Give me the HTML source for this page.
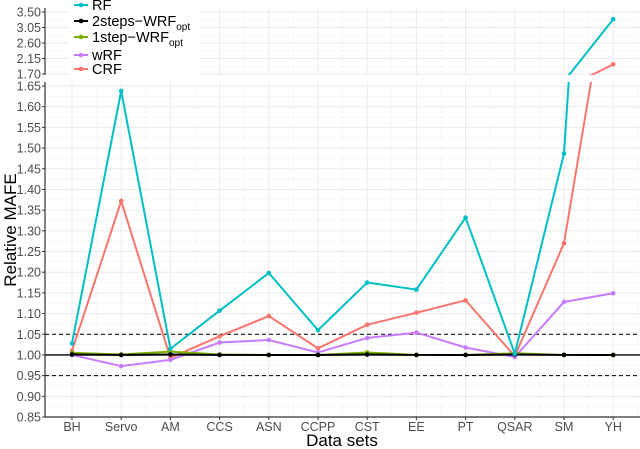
<!DOCTYPE html>
<html><head><meta charset="utf-8">
<style>
body{margin:0;background:#fff;}
svg{display:block;font-family:"Liberation Sans",sans-serif;}
</style></head>
<body>
<svg id="chart" width="640" height="449" viewBox="0 0 640 449">
<defs>
<clipPath id="clipTop"><rect x="45" y="8" width="595" height="67"/></clipPath>
<clipPath id="clipBot"><rect x="45" y="82" width="595" height="335"/></clipPath>
</defs>
<g id="grid"></g>
<g id="refs"></g>
<g id="series"></g>
<g id="axes"></g>
<g>
<rect x="68" y="0" width="132" height="76" fill="#fff"/>
<g id="legend"></g>
</g>
<text x="0" y="0" transform="translate(16,230) rotate(-90)" text-anchor="middle" font-size="17" fill="#000">Relative MAFE</text>
<text x="342" y="446" text-anchor="middle" font-size="17" fill="#000">Data sets</text>
</svg>
<script>
const categories=["BH","Servo","AM","CCS","ASN","CCPP","CST","EE","PT","QSAR","SM","YH"];
const rfValues=[1.028,1.638,1.015,1.107,1.198,1.060,1.175,1.158,1.332,1.003,1.487,3.29];
const twoStepsValues=[1.001,1.000,1.001,1.000,1.000,1.000,1.001,1.000,1.000,1.001,1.000,1.000];
const oneStepValues=[1.005,1.001,1.008,1.001,1.000,1.000,1.006,1.000,1.000,1.004,1.000,1.000];
const wrfValues=[1.000,0.973,0.988,1.030,1.036,1.006,1.041,1.054,1.018,0.995,1.128,1.149];
const crfValues=[1.010,1.372,0.993,1.045,1.094,1.016,1.073,1.102,1.132,0.997,1.270,1.98];
const bottomTicks=["0.85","0.90","0.95","1.00","1.05","1.10","1.15","1.20","1.25","1.30","1.35","1.40","1.45","1.50","1.55","1.60","1.65"];
const topTicks=["1.70","2.15","2.60","3.05","3.50"];

const NS="http://www.w3.org/2000/svg";
function mk(parent,tag,attrs){const e=document.createElementNS(NS,tag);for(const k in attrs)e.setAttribute(k,attrs[k]);parent.appendChild(e);return e;}
const x=i=>72+i*49.2;
const yB=v=>417-(v-0.85)*413.75;
const yT=v=>74-(v-1.70)*(62/1.80);
const grid=document.getElementById('grid'),axes=document.getElementById('axes'),refs=document.getElementById('refs'),series=document.getElementById('series');
for(let i=0;i<bottomTicks.length;i++){const v=+bottomTicks[i];
 mk(grid,'line',{x1:45,x2:640,y1:yB(v),y2:yB(v),stroke:'#ebebeb','stroke-width':1});
 if(i<bottomTicks.length-1)mk(grid,'line',{x1:45,x2:640,y1:yB(v+0.025),y2:yB(v+0.025),stroke:'#f3f3f3','stroke-width':0.6});
 const t=mk(axes,'text',{x:41,y:yB(v)+4.5,'text-anchor':'end','font-size':12.5,fill:'#4d4d4d'});t.textContent=bottomTicks[i];
 
 mk(axes,'line',{x1:42,x2:45,y1:yB(v),y2:yB(v),stroke:'#333'});
}
for(let i=0;i<topTicks.length;i++){const v=+topTicks[i];
 mk(grid,'line',{x1:45,x2:640,y1:yT(v),y2:yT(v),stroke:'#ebebeb','stroke-width':1});
 if(i<topTicks.length-1)mk(grid,'line',{x1:45,x2:640,y1:yT(v+0.225),y2:yT(v+0.225),stroke:'#f3f3f3','stroke-width':0.6});
 const t=mk(axes,'text',{x:41,y:yT(v)+4.5,'text-anchor':'end','font-size':12.5,fill:'#4d4d4d'});t.textContent=topTicks[i];
 
 mk(axes,'line',{x1:42,x2:45,y1:yT(v),y2:yT(v),stroke:'#333'});
}
for(let i=0;i<categories.length;i++){
 mk(grid,'line',{x1:x(i),x2:x(i),y1:82,y2:417,stroke:'#ebebeb'});
 mk(grid,'line',{x1:x(i),x2:x(i),y1:8,y2:75,stroke:'#ebebeb'});
 mk(grid,'line',{x1:x(i)+24.6,x2:x(i)+24.6,y1:82,y2:417,stroke:'#f3f3f3','stroke-width':0.6});
 mk(grid,'line',{x1:x(i)+24.6,x2:x(i)+24.6,y1:8,y2:75,stroke:'#f3f3f3','stroke-width':0.6});
 const t=mk(axes,'text',{x:x(i),y:431,'text-anchor':'middle','font-size':12.5,fill:'#4d4d4d'});t.textContent=categories[i];
 
 mk(axes,'line',{x1:x(i),x2:x(i),y1:417,y2:420,stroke:'#333'});
}
mk(axes,'line',{x1:45,x2:45,y1:82,y2:417,stroke:'#333','stroke-width':1.2});
mk(axes,'line',{x1:45,x2:45,y1:8,y2:75,stroke:'#333','stroke-width':1.2});
mk(axes,'line',{x1:45,x2:640,y1:417,y2:417,stroke:'#333','stroke-width':1.2});
mk(refs,'line',{x1:45,x2:640,y1:yB(1.05),y2:yB(1.05),stroke:'#000','stroke-dasharray':'4,3','stroke-width':1});
mk(refs,'line',{x1:45,x2:640,y1:yB(0.95),y2:yB(0.95),stroke:'#000','stroke-dasharray':'4,3','stroke-width':1});
mk(refs,'line',{x1:45,x2:640,y1:yB(1),y2:yB(1),stroke:'#000','stroke-width':1.3});
const list=[["crf",crfValues,"#F8766D"],["wrf",wrfValues,"#C77CFF"],["one-step-wrf",oneStepValues,"#7CAE00"],["two-steps-wrf",twoStepsValues,"#000000"],["rf",rfValues,"#00BFC4"]];
for(const [name,vals,col] of list){
 for(const [sc,clip,lo,hi] of [[yB,'clipBot',0.8,1.7],[yT,'clipTop',1.65,3.6]]){
  const g=mk(series,'g',{'clip-path':'url(#'+clip+')'});
  
  const p=mk(g,'polyline',{points:vals.map((v,i)=>x(i)+','+sc(v)).join(' '),fill:'none',stroke:col,'stroke-width':2});
  
  vals.forEach((v,i)=>{if(v>=lo&&v<=hi){const c=mk(g,'circle',{cx:x(i),cy:sc(v),r:2.3,fill:col});
   }});
 }
}
const leg=document.getElementById('legend');
const entries=[["RF","","#00BFC4",9],["2steps\u2212WRF","opt","#000",25],["1step\u2212WRF","opt","#7CAE00",41],["wRF","","#C77CFF",59],["CRF","","#F8766D",73]];
for(const [lab,sub,col,yy] of entries){
 const g=mk(leg,'g',{});
 mk(g,'line',{x1:74,x2:88,y1:yy-4,y2:yy-4,stroke:col,'stroke-width':2});
 mk(g,'circle',{cx:81,cy:yy-4,r:2.3,fill:col});
 const t=mk(g,'text',{x:92,y:yy+1,'font-size':14.5,fill:'#000'});t.textContent=lab;
 if(sub){const s=mk(t,'tspan',{'font-size':10,dy:4});s.textContent=sub;}
}
</script>
</body></html>
